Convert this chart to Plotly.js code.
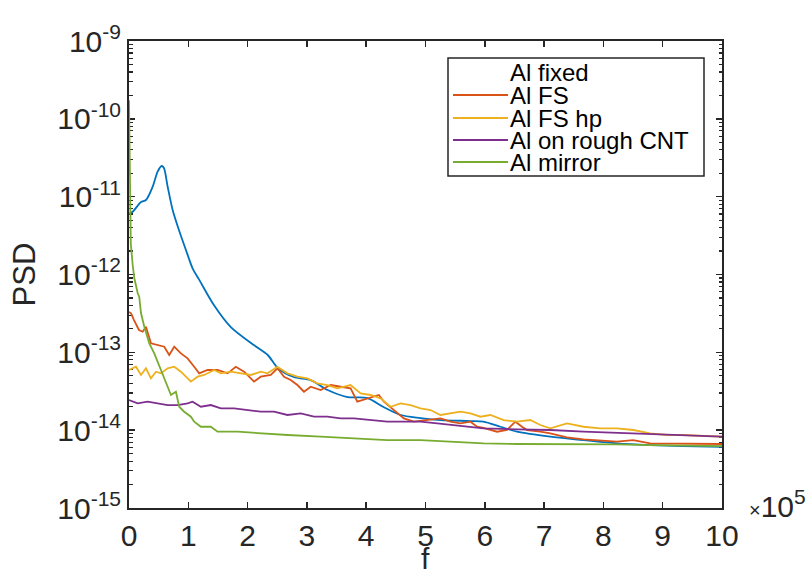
<!DOCTYPE html>
<html>
<head>
<meta charset="utf-8">
<script src="https://cdn.plot.ly/plotly-3.0.1.min.js"></script>
<style>html,body{margin:0;padding:0;background:#fff;}#chart{width:806px;height:573px;}</style>
</head>
<body>
<div id="chart"></div>
<script>
// f in units of 1e5 Hz ; PSD stored as log10 values
const seriesNames = ["Al fixed", "Al FS", "Al FS hp", "Al on rough CNT", "Al mirror"];
const seriesColors = ["#0072BD", "#D95319", "#EDB120", "#7E2F8E", "#77AC30"];

const fFixed = [0,0.062,0.202,0.286,0.399,0.483,0.55,0.589,0.652,0.736,0.842,0.96,1.072,1.178,1.431,1.717,2.104,2.34,2.508,2.778,3.064,3.35,3.687,4.024,4.293,4.579,4.916,5.253,5.758,5.976,6.263,6.544,7.104,7.66,8.227,8.788,9.343,10];
const logPsdFixed = [-11.22,-11.193,-11.069,-11.043,-10.872,-10.679,-10.606,-10.632,-10.872,-11.171,-11.428,-11.685,-11.92,-12.06,-12.392,-12.675,-12.906,-13.034,-13.201,-13.317,-13.356,-13.484,-13.574,-13.587,-13.703,-13.805,-13.844,-13.87,-13.883,-13.891,-13.956,-14.02,-14.084,-14.127,-14.169,-14.191,-14.204,-14.213];

const fFS = [0,0.034,0.084,0.168,0.231,0.286,0.37,0.483,0.594,0.678,0.763,0.875,0.988,1.099,1.184,1.325,1.493,1.662,1.801,1.941,2.109,2.222,2.391,2.503,2.614,2.727,2.84,2.951,3.064,3.232,3.401,3.569,3.737,3.85,4.019,4.214,4.298,4.466,4.635,4.803,5.029,5.253,5.421,5.589,5.758,5.87,5.976,6.207,6.375,6.515,6.628,6.712,6.936,7.104,7.386,7.665,8.227,8.502,8.788,9.348,10];
const logPsdFS = [-12.48,-12.499,-12.585,-12.713,-12.735,-12.671,-12.884,-12.906,-12.928,-13.034,-12.928,-13.013,-13.077,-13.185,-13.27,-13.227,-13.227,-13.27,-13.185,-13.249,-13.377,-13.313,-13.291,-13.205,-13.313,-13.356,-13.42,-13.506,-13.442,-13.484,-13.42,-13.442,-13.462,-13.634,-13.591,-13.548,-13.634,-13.741,-13.848,-13.891,-13.87,-13.848,-13.891,-13.912,-13.891,-13.956,-13.972,-14.02,-13.998,-13.891,-13.956,-13.998,-14.02,-14.041,-14.092,-14.118,-14.148,-14.127,-14.169,-14.169,-14.178];

const fFShp = [0,0.118,0.202,0.286,0.37,0.455,0.539,0.652,0.763,0.875,0.96,1.044,1.157,1.268,1.436,1.549,1.717,1.886,2.054,2.222,2.335,2.503,2.672,2.84,3.008,3.177,3.345,3.513,3.737,3.906,4.074,4.242,4.411,4.579,4.747,4.916,5.084,5.253,5.421,5.589,5.758,5.926,6.094,6.318,6.544,6.768,6.936,7.104,7.386,7.665,7.946,8.227,8.507,8.788,9.069,9.348,9.685,10];
const logPsdFShp = [-13.227,-13.185,-13.291,-13.205,-13.334,-13.249,-13.27,-13.205,-13.185,-13.249,-13.313,-13.377,-13.313,-13.291,-13.227,-13.27,-13.249,-13.27,-13.291,-13.249,-13.27,-13.185,-13.27,-13.313,-13.334,-13.398,-13.42,-13.462,-13.42,-13.527,-13.548,-13.591,-13.699,-13.655,-13.677,-13.719,-13.741,-13.805,-13.784,-13.763,-13.784,-13.827,-13.805,-13.87,-13.891,-13.87,-13.934,-13.976,-13.912,-13.956,-13.976,-13.976,-13.998,-14.041,-14.062,-14.062,-14.075,-14.084];

const fCNT = [0,0.146,0.314,0.483,0.652,0.82,0.988,1.072,1.212,1.38,1.549,1.773,1.998,2.222,2.446,2.672,2.896,3.12,3.345,3.569,3.793,4.074,4.355,4.635,4.916,5.197,5.476,5.758,5.981,6.544,7.104,7.665,8.227,8.788,9.348,10];
const logPsdCNT = [-13.613,-13.655,-13.634,-13.655,-13.677,-13.677,-13.655,-13.634,-13.699,-13.677,-13.719,-13.719,-13.741,-13.763,-13.763,-13.805,-13.784,-13.827,-13.827,-13.848,-13.848,-13.87,-13.891,-13.891,-13.891,-13.912,-13.934,-13.956,-13.976,-13.989,-13.998,-14.02,-14.033,-14.049,-14.062,-14.084];

const fMirror = [0,0.03,0.062,0.089,0.146,0.173,0.202,0.258,0.342,0.426,0.539,0.623,0.707,0.791,0.847,0.931,1.044,1.099,1.212,1.38,1.493,1.83,2.222,2.672,3.232,3.793,4.355,4.916,5.476,5.981,6.544,7.104,7.665,8.227,8.788,9.348,10];
const logPsdMirror = [-9.76,-11.6,-11.878,-12.045,-12.238,-12.289,-12.495,-12.671,-12.884,-13.013,-13.227,-13.398,-13.548,-13.506,-13.699,-13.763,-13.827,-13.891,-13.956,-13.956,-14.02,-14.02,-14.041,-14.062,-14.084,-14.105,-14.127,-14.127,-14.148,-14.169,-14.178,-14.178,-14.178,-14.182,-14.191,-14.195,-14.204];

const xTickVals = [0,1,2,3,4,5,6,7,8,9,10];
const yTickExps = [-15,-14,-13,-12,-11,-10,-9];

const xs = [fFixed, fFS, fFShp, fCNT, fMirror];
const ls = [logPsdFixed, logPsdFS, logPsdFShp, logPsdCNT, logPsdMirror];

const traces = xs.map((x, i) => ({
  type: 'scatter', mode: 'lines', name: seriesNames[i], x: x,
  y: ls[i].map(v => Math.pow(10, v)),
  line: {color: seriesColors[i], width: 1.8, shape: i === 0 ? 'spline' : 'linear', smoothing: 0.8},
  showlegend: false, hoverinfo: 'skip'
}));

// layout geometry
const L = 129, R = 84, T = 41, B = 65, W = 806, H = 573;
const pw = W - L - R, ph = H - T - B;
const px = v => (v - L) / pw;
const py = v => (H - B - v) / ph;
const FONT = 'Liberation Sans, Arial, Helvetica, sans-serif';
const INK = '#262626';

const shapes = [];
const annotations = [];
// legend (manual, to match compact MATLAB spacing)
const legL = 448, legR = 704, legT = 58, legB = 176;
shapes.push({type:'rect', xref:'paper', yref:'paper', x0:px(legL), x1:px(legR), y0:py(legB), y1:py(legT),
  line:{color:INK, width:1.5}, fillcolor:'#fff', layer:'above'});
const rowY = [73, 95, 118, 140, 162];
seriesNames.forEach((n, i) => {
  if (i > 0) {
    shapes.push({type:'line', xref:'paper', yref:'paper', x0:px(453), x1:px(508), y0:py(rowY[i]), y1:py(rowY[i]),
      line:{color:seriesColors[i], width:1.8}, layer:'above'});
  }
  annotations.push({xref:'paper', yref:'paper', x:px(509), y:py(rowY[i]), xanchor:'left', yanchor:'middle',
    text:n, showarrow:false, borderpad:0, font:{family:FONT, size:24, color:'#000'}});
});
// x10^5 multiplier
annotations.push({xref:'paper', yref:'paper', x:px(747), y:py(504), xanchor:'left', yanchor:'middle',
  text:'<span style="font-size:20px">×</span>10<sup>5</sup>', showarrow:false, font:{family:FONT, size:30, color:INK}});
// x axis title
annotations.push({xref:'paper', yref:'paper', x:0.5, y:py(558), xanchor:'center', yanchor:'middle',
  text:'f', showarrow:false, borderpad:0, font:{family:FONT, size:30, color:INK}});

const layout = {
  width: W, height: H,
  margin: {l: L, r: R, t: T, b: B, pad: 0},
  paper_bgcolor: '#fff', plot_bgcolor: '#fff',
  showlegend: false,
  font: {family: FONT, color: INK},
  xaxis: {
    range: [0, 10], tickvals: xTickVals, ticktext: xTickVals.map(String),
    ticks: 'inside', ticklen: 6, tickwidth: 1.5, tickcolor: INK,
    showline: true, linecolor: INK, linewidth: 2, mirror: 'ticks',
    showgrid: false, zeroline: false,
    tickfont: {family: FONT, size: 30, color: INK},
    layer: 'below traces'
  },
  yaxis: {
    type: 'log', range: [-15, -9],
    tickvals: yTickExps.map(e => Math.pow(10, e)),
    ticktext: yTickExps.map(e => '10<sup>' + e + '</sup>'),
    ticks: 'inside', ticklen: 6, tickwidth: 1.5, tickcolor: INK,
    minor: {ticks: 'inside', ticklen: 3.5, tickwidth: 1.2, tickcolor: INK, dtick: 'D1', showgrid: false},
    showline: true, linecolor: INK, linewidth: 2, mirror: 'ticks',
    showgrid: false, zeroline: false,
    tickfont: {family: FONT, size: 30, color: INK},
    title: {text: 'PSD', font: {family: FONT, size: 31, color: INK}, standoff: 12},
    layer: 'below traces'
  },
  shapes: shapes,
  annotations: annotations
};

Plotly.newPlot('chart', traces, layout, {displayModeBar: false, staticPlot: true});
</script>
</body>
</html>
